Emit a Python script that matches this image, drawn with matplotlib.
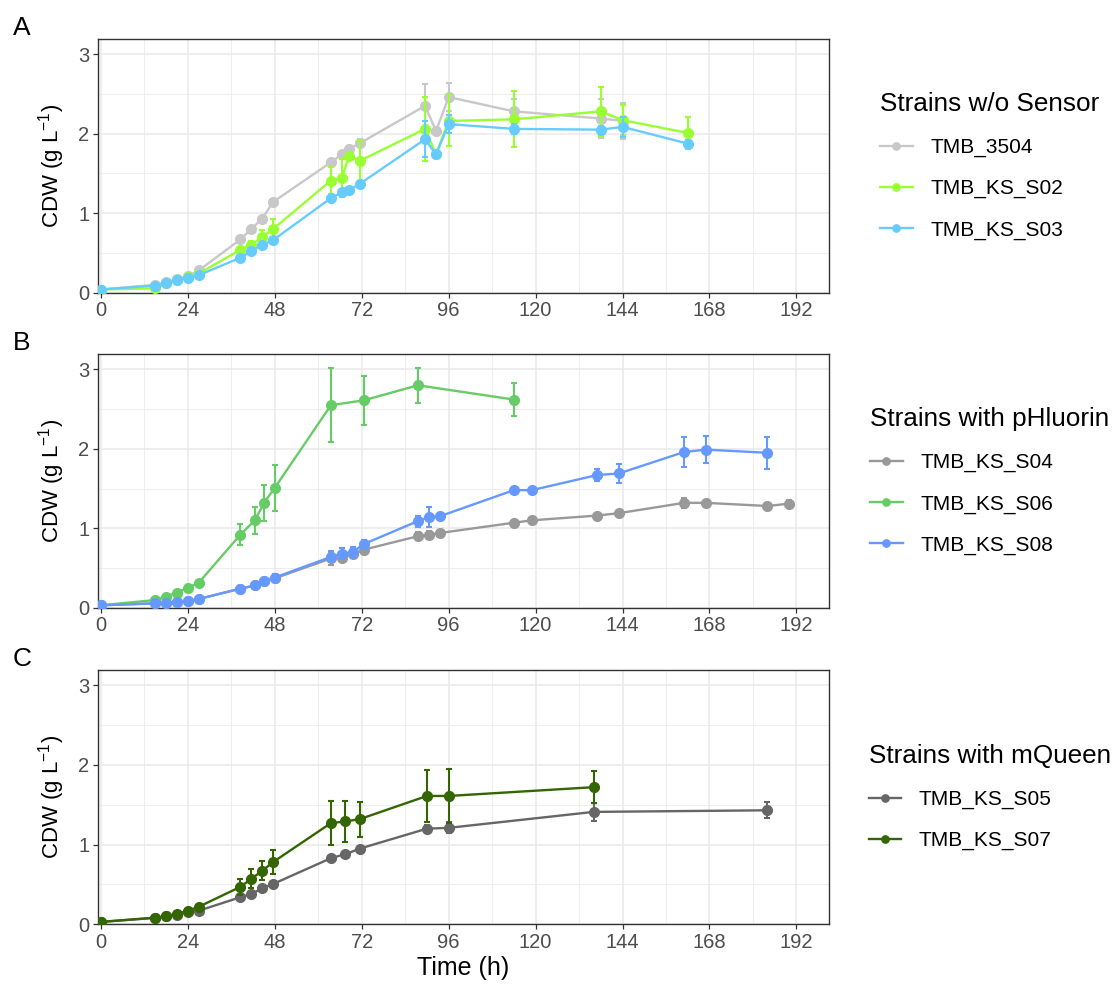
import matplotlib

matplotlib.use("Agg")
import matplotlib.pyplot as plt
from matplotlib.ticker import MultipleLocator

plt.rcParams["font.family"] = ["Liberation Sans", "DejaVu Sans"]
plt.rcParams["mathtext.fontset"] = "custom"
plt.rcParams["mathtext.rm"] = "Liberation Sans"
plt.rcParams["mathtext.it"] = "Liberation Sans:italic"

# ---- panel A: strains without sensor ----
t_3504 = [0, 15, 18, 21, 24, 27, 38.5, 41.5, 44.5, 47.5, 63.5, 66.5, 68.5, 71.5,
          89.5, 92.5, 96, 114, 138, 144]
y_3504 = [0.04, 0.10, 0.13, 0.17, 0.21, 0.28, 0.67, 0.80, 0.93, 1.14, 1.64, 1.74, 1.81, 1.88,
          2.35, 2.03, 2.46, 2.28, 2.19, 2.16]
e_3504 = [0.01, 0.01, 0.01, 0.01, 0.01, 0.01, 0.02, 0.02, 0.02, 0.03, 0.03, 0.03, 0.03, 0.05,
          0.28, 0.03, 0.18, 0.15, 0.24, 0.23]

t_s02 = [0, 15, 18, 21, 24, 27, 38.5, 41.5, 44.5, 47.5, 63.5, 66.5, 68.5, 71.5,
         89.5, 92.5, 96, 114, 138, 144, 162]
y_s02 = [0.04, 0.055, 0.12, 0.16, 0.20, 0.24, 0.54, 0.60, 0.70, 0.80, 1.41, 1.44, 1.72, 1.66,
         2.06, 1.74, 2.16, 2.18, 2.28, 2.17, 2.01]
e_s02 = [0.01, 0.01, 0.01, 0.01, 0.01, 0.01, 0.03, 0.05, 0.09, 0.13, 0.17, 0.24, 0.03, 0.26,
         0.40, 0.02, 0.32, 0.35, 0.31, 0.19, 0.20]

t_s03 = t_s02
y_s03 = [0.04, 0.09, 0.12, 0.155, 0.19, 0.22, 0.44, 0.52, 0.60, 0.66, 1.19, 1.26, 1.29, 1.37,
         1.93, 1.74, 2.12, 2.06, 2.05, 2.085, 1.875]
e_s03 = [0.01, 0.01, 0.01, 0.01, 0.01, 0.01, 0.02, 0.02, 0.02, 0.02, 0.03, 0.03, 0.03, 0.03,
         0.23, 0.02, 0.11, 0.06, 0.05, 0.13, 0.05]

# ---- panel B: strains with pHluorin ----
t_s04 = [0, 15, 18, 21, 24, 27, 38.5, 42.5, 45, 48, 63.5, 66.5, 69.5, 72.5, 87.5, 90.5, 93.5,
         114, 119, 137, 143, 161, 167, 184, 190]
y_s04 = [0.03, 0.055, 0.06, 0.07, 0.085, 0.11, 0.24, 0.28, 0.34, 0.37, 0.62, 0.63, 0.67, 0.73,
         0.90, 0.92, 0.94, 1.07, 1.10, 1.16, 1.19, 1.32, 1.32, 1.28, 1.31]
e_s04 = [0.01, 0.01, 0.01, 0.01, 0.01, 0.01, 0.02, 0.02, 0.03, 0.03, 0.08, 0.06, 0.05, 0.06,
         0.05, 0.05, 0.02, 0.02, 0.02, 0.02, 0.02, 0.06, 0.03, 0.03, 0.05]

t_s06 = [0, 15, 18, 21, 24, 27, 38.5, 42.5, 45, 48, 63.5, 72.5, 87.5, 114]
y_s06 = [0.03, 0.097, 0.14, 0.19, 0.25, 0.315, 0.92, 1.10, 1.32, 1.51, 2.55, 2.61, 2.80, 2.62]
e_s06 = [0.01, 0.01, 0.01, 0.01, 0.01, 0.01, 0.13, 0.17, 0.23, 0.29, 0.47, 0.31, 0.22, 0.21]

t_s08 = t_s04[:-1]
y_s08 = [0.03, 0.055, 0.06, 0.07, 0.085, 0.11, 0.24, 0.28, 0.34, 0.38, 0.64, 0.68, 0.70, 0.80,
         1.09, 1.14, 1.15, 1.48, 1.48, 1.67, 1.69, 1.96, 1.99, 1.95]
e_s08 = [0.01, 0.01, 0.01, 0.01, 0.01, 0.01, 0.03, 0.03, 0.04, 0.04, 0.07, 0.07, 0.07, 0.05,
         0.07, 0.13, 0.02, 0.03, 0.02, 0.08, 0.12, 0.19, 0.17, 0.20]

# ---- panel C: strains with mQueen ----
t_s05 = [0, 15, 18, 21, 24, 27, 38.5, 41.5, 44.5, 47.5, 63.5, 67.5, 71.5, 90, 96, 136, 184]
y_s05 = [0.03, 0.08, 0.10, 0.12, 0.15, 0.17, 0.34, 0.38, 0.45, 0.505, 0.83, 0.88, 0.95,
         1.20, 1.21, 1.41, 1.43]
e_s05 = [0.01, 0.01, 0.01, 0.01, 0.01, 0.01, 0.02, 0.02, 0.02, 0.03, 0.02, 0.02, 0.02,
         0.05, 0.07, 0.11, 0.10]

t_s07 = t_s05[:-1]
y_s07 = [0.03, 0.084, 0.10, 0.13, 0.17, 0.22, 0.47, 0.57, 0.67, 0.78, 1.27, 1.29, 1.32,
         1.61, 1.61, 1.72]
e_s07 = [0.01, 0.01, 0.01, 0.01, 0.01, 0.01, 0.10, 0.12, 0.12, 0.15, 0.28, 0.26, 0.22,
         0.33, 0.34, 0.20]

PANELS = [
    ("A", "Strains w/o Sensor", [
        ("TMB_3504", t_3504, y_3504, e_3504, "#C8C8C8"),
        ("TMB_KS_S02", t_s02, y_s02, e_s02, "#99FF33"),
        ("TMB_KS_S03", t_s03, y_s03, e_s03, "#66CCFF"),
    ]),
    ("B", "Strains with pHluorin", [
        ("TMB_KS_S04", t_s04, y_s04, e_s04, "#999999"),
        ("TMB_KS_S06", t_s06, y_s06, e_s06, "#66CC66"),
        ("TMB_KS_S08", t_s08, y_s08, e_s08, "#6699FF"),
    ]),
    ("C", "Strains with mQueen", [
        ("TMB_KS_S05", t_s05, y_s05, e_s05, "#666666"),
        ("TMB_KS_S07", t_s07, y_s07, e_s07, "#336600"),
    ]),
]

W, H = 1117, 988
fig = plt.figure(figsize=(W / 100, H / 100), dpi=100)
AX_LEFT, AX_RIGHT = 97.7, 829
AX_TOPS = [39, 354.3, 670]
AX_BOTS = [292.7, 607.7, 924.3]

for i, (letter, title, series) in enumerate(PANELS):
    ax = fig.add_axes([AX_LEFT / W, 1 - AX_BOTS[i] / H,
                       (AX_RIGHT - AX_LEFT) / W, (AX_BOTS[i] - AX_TOPS[i]) / H])
    for k, (name, t, y, e, c) in enumerate(series):
        ax.plot(t, y, "-o", color=c, lw=1.7, ms=7, label=name, zorder=3 + k)
        ax.errorbar(t, y, yerr=e, fmt="none", ecolor=c, elinewidth=1.5,
                    capsize=2.4, capthick=1.5, zorder=3 + k)
    ax.set_xlim(-0.9, 201)
    ax.set_ylim(0, 3.19)
    ax.xaxis.set_major_locator(MultipleLocator(24))
    ax.xaxis.set_minor_locator(MultipleLocator(12))
    ax.yaxis.set_major_locator(MultipleLocator(1))
    ax.yaxis.set_minor_locator(MultipleLocator(0.5))
    ax.grid(which="major", color="#EBEBEB", lw=1.2, zorder=0)
    ax.grid(which="minor", color="#EBEBEB", lw=0.6, zorder=0)
    ax.set_axisbelow(True)
    ax.tick_params(which="major", length=3.5, width=0.9, color="#333333",
                   labelsize=14.5, labelcolor="#4D4D4D", pad=2.5)
    ax.tick_params(which="minor", length=0)
    for s in ax.spines.values():
        s.set_color("#333333")
        s.set_linewidth(1.0)
    ax.set_ylabel("CDW (g L$^{-1}$)", fontsize=16, labelpad=8)
    if i == 2:
        ax.set_xlabel("Time (h)", fontsize=18, labelpad=3)
    ax.legend(title=title, loc="center", bbox_to_anchor=(1.22, 0.5),
              frameon=False, fontsize=15, title_fontsize=18.8,
              handlelength=1.55, handletextpad=0.85, labelspacing=1.05,
              alignment="left", markerscale=0.75)
    fig.text(13 / W, 1 - (AX_TOPS[i] - 4) / H, letter, fontsize=19,
             ha="left", va="baseline")

fig.savefig("out.png", dpi=100)
